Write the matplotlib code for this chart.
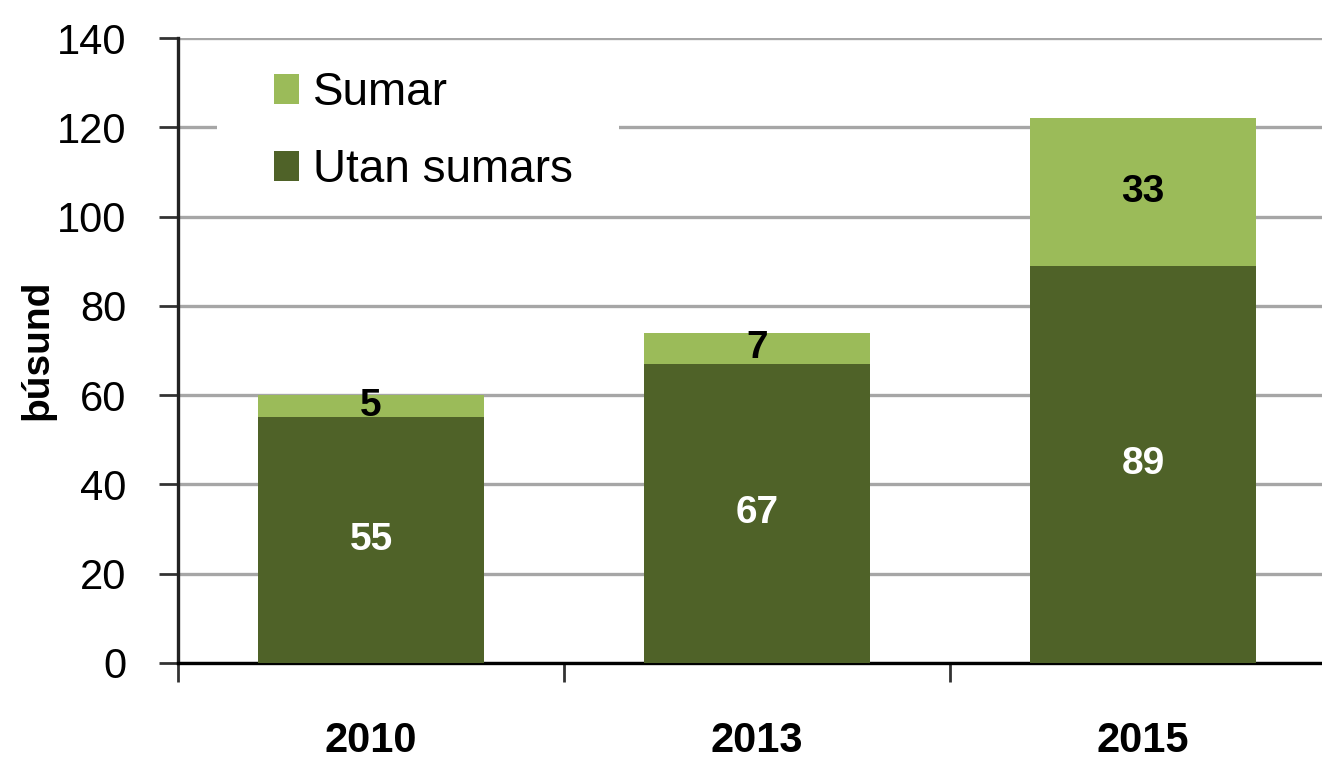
import matplotlib.pyplot as plt
from matplotlib.patches import Rectangle

plt.rcParams['font.family'] = ['Liberation Sans', 'DejaVu Sans']

years = ["2010", "2013", "2015"]
utan_sumars = [55, 67, 89]
sumar = [5, 7, 33]

dark_green = "#4F6228"
light_green = "#9BBB59"

fig = plt.figure(figsize=(13.22, 7.62), dpi=100)
# axes runs slightly past the right edge, as in the original crop
ax = fig.add_axes([178 / 1322, 99 / 762, 1158 / 1322, 625 / 762])

x = range(len(years))
b1 = ax.bar(x, utan_sumars, width=0.585, color=dark_green, label="Utan sumars", zorder=3)
b2 = ax.bar(x, sumar, width=0.585, bottom=utan_sumars, color=light_green, label="Sumar", zorder=3)

ax.bar_label(b1, label_type="center", color="white", fontsize=28, fontweight="bold")
ax.bar_label(b2, label_type="center", color="black", fontsize=28, fontweight="bold")

ax.set_xlim(-0.5, 2.5)
ax.set_ylim(0, 140)
ax.set_yticks(range(0, 141, 20))
ax.tick_params(axis="y", labelsize=30, length=14, width=2, pad=23, color="#333333")
ax.grid(axis="y", color="#A6A6A6", linewidth=2.4, zorder=0)

# category boundaries get tick marks, labels sit on the centers
ax.set_xticks([-0.5, 0.5, 1.5, 2.5])
ax.set_xticklabels([])
ax.set_xticks(list(x), minor=True)
ax.set_xticklabels(years, minor=True, fontsize=30, fontweight="bold")
ax.tick_params(axis="x", which="major", length=14, width=2, color="#333333")
ax.tick_params(axis="x", which="minor", length=0, pad=42)

for side in ["top", "right"]:
    ax.spines[side].set_visible(False)
ax.spines["left"].set_linewidth(2.4)
ax.spines["left"].set_color("#222222")
ax.spines["bottom"].set_linewidth(2.4)
ax.spines["bottom"].set_color("black")

# white patch behind the legend hides the 120 gridline
ax.add_patch(Rectangle((0.0337, 0.733), 0.347, 0.24, transform=ax.transAxes,
                       facecolor="white", edgecolor="none", zorder=2))

leg = ax.legend(handles=[b2, b1], loc="upper left", bbox_to_anchor=(0.083, 0.947),
                fontsize=33, frameon=False, handlelength=0.55, handleheight=0.62,
                handletextpad=0.3, labelspacing=0.72, borderpad=0, borderaxespad=0)
leg.set_zorder(5)

fig.text(0.028, 0.541, "þúsund", rotation=90, fontsize=28, fontweight="bold",
         ha="center", va="center")

plt.savefig("out.png", dpi=100)
